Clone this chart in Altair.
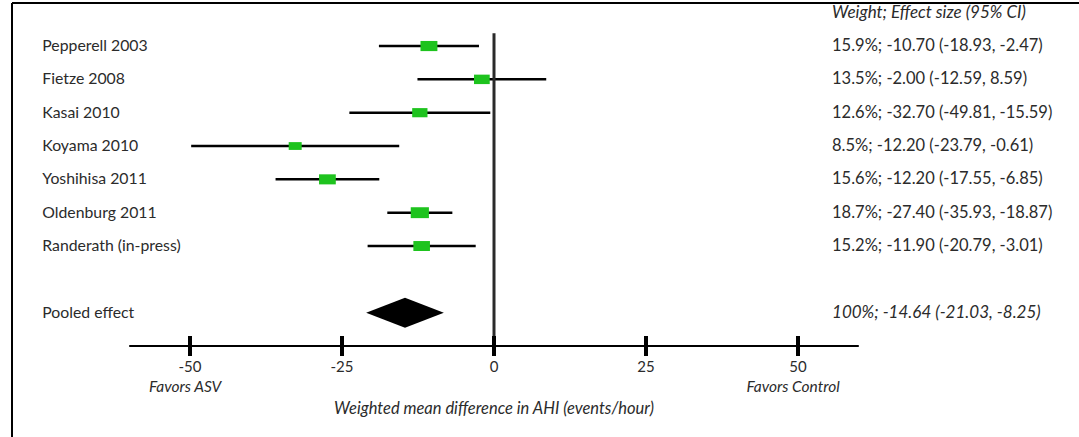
import altair as alt
import pandas as pd

# ---- data ----
studies = ["Pepperell 2003", "Fietze 2008", "Kasai 2010", "Koyama 2010",
           "Yoshihisa 2011", "Oldenburg 2011", "Randerath (in-press)"]
# plotted effect sizes / CIs (as drawn in the figure)
est = [-10.70, -2.00, -12.20, -32.70, -27.40, -12.20, -11.90]
lo = [-18.93, -12.59, -23.79, -49.81, -35.93, -17.55, -20.79]
hi = [-2.47, 8.59, -0.61, -15.59, -18.87, -6.85, -3.01]
weights = [15.9, 13.5, 12.6, 8.5, 15.6, 18.7, 15.2]
row_text = ["15.9%; -10.70 (-18.93, -2.47)",
            "13.5%; -2.00 (-12.59, 8.59)",
            "12.6%; -32.70 (-49.81, -15.59)",
            "8.5%; -12.20 (-23.79, -0.61)",
            "15.6%; -12.20 (-17.55, -6.85)",
            "18.7%; -27.40 (-35.93, -18.87)",
            "15.2%; -11.90 (-20.79, -3.01)"]
pooled_label = "Pooled effect"
pooled_est, pooled_lo, pooled_hi = -14.64, -21.03, -8.25
pooled_text = "100%; -14.64 (-21.03, -8.25)"
header_text = "Weight; Effect size (95% CI)"
tick_values = [-50, -25, 0, 25, 50]
tick_labels = ["-50", "-25", "0", "25", "50"]
axis_min, axis_max = -60, 60
left_note = "Favors ASV"
right_note = "Favors Control"
axis_title = "Weighted mean difference in AHI (events/hour)"

# ---- layout ----
FONT = "Lato"
W, H = 1067, 434
POOLED_ROW = 9
AXIS_ROW = 10
xs = alt.Scale(domain=[-79.28, 96.22], nice=False, zero=False)
ys = alt.Scale(domain=[-0.291, 12.73], nice=False, zero=False, reverse=True)

def X(field=None, datum=None):
    if datum is not None:
        return alt.X(datum=datum, type="quantitative", scale=xs, axis=None)
    return alt.X(field, type="quantitative", scale=xs, axis=None)

def Y(field=None, datum=None):
    if datum is not None:
        return alt.Y(datum=datum, type="quantitative", scale=ys, axis=None)
    return alt.Y(field, type="quantitative", scale=ys, axis=None)

rows = list(range(1, len(studies) + 1))
df = pd.DataFrame({"study": studies, "est": est, "lo": lo, "hi": hi,
                   "w": weights, "txt": row_text, "row": rows})
ticks_df = pd.DataFrame({"t": tick_values, "lab": tick_labels})
one = pd.DataFrame({"a": [0]})
diamond = pd.DataFrame({"x": [pooled_lo, pooled_est, pooled_hi],
                        "y": [POOLED_ROW, POOLED_ROW - 0.45, POOLED_ROW],
                        "y2": [POOLED_ROW, POOLED_ROW + 0.45, POOLED_ROW]})

LABEL_X = -74.3
TEXT_X = 55.6
TXT = "#2b2b2b"

ci = alt.Chart(df).mark_rule(color="black", strokeWidth=2.5).encode(
    x=X("lo"), x2="hi", y=Y("row"))

squares = alt.Chart(df).mark_point(
    shape="M-1,-0.6L1,-0.6L1,0.6L-1,0.6Z", filled=True, opacity=1,
    color="#1ec31e").encode(
    x=X("est"), y=Y("row"),
    size=alt.Size("w:Q", scale=alt.Scale(domain=[8.5, 18.7], range=[169, 330]),
                  legend=None))

zero_line = alt.Chart(one).mark_rule(color="#2a2a2a", strokeWidth=3).encode(
    x=X(datum=0), y=Y(datum=0.62), y2=alt.Y2(datum=AXIS_ROW))

axis_line = alt.Chart(one).mark_rule(color="black", strokeWidth=2).encode(
    x=X(datum=axis_min), x2=alt.X2(datum=axis_max), y=Y(datum=AXIS_ROW))

tick_marks = alt.Chart(ticks_df).mark_rule(color="black", strokeWidth=4).encode(
    x=X("t"), y=Y(datum=AXIS_ROW - 0.3), y2=alt.Y2(datum=AXIS_ROW + 0.3))

tick_text = alt.Chart(ticks_df).mark_text(
    font=FONT, fontSize=15, color=TXT, baseline="middle").encode(
    x=X("t"), y=Y(datum=AXIS_ROW + 0.64), text="lab")

notes_df = pd.DataFrame({"x": [-50.8, 49.2], "lab": [left_note, right_note]})
notes = alt.Chart(notes_df).mark_text(
    font=FONT, fontSize=15.5, fontStyle="italic", color=TXT,
    baseline="middle").encode(
    x=X("x"), y=Y(datum=AXIS_ROW + 1.24), text="lab")

title = alt.Chart(one).mark_text(
    font=FONT, fontSize=16.5, fontStyle="italic", color=TXT,
    baseline="middle", text=axis_title).encode(
    x=X(datum=0), y=Y(datum=AXIS_ROW + 1.9))

labels = alt.Chart(df).mark_text(
    font=FONT, fontSize=15.8, color=TXT, align="left",
    baseline="middle").encode(
    x=X(datum=LABEL_X), y=Y("row"), text="study")

right = alt.Chart(df).mark_text(
    font=FONT, fontSize=16.5, color=TXT, align="left",
    baseline="middle").encode(
    x=X(datum=TEXT_X), y=Y("row"), text="txt")

header = alt.Chart(one).mark_text(
    font=FONT, fontSize=17, fontStyle="italic", color=TXT, align="left",
    baseline="middle", text=header_text).encode(
    x=X(datum=TEXT_X), y=Y(datum=0))

pooled_lab = alt.Chart(one).mark_text(
    font=FONT, fontSize=15.8, color=TXT, align="left",
    baseline="middle", text=pooled_label).encode(
    x=X(datum=LABEL_X), y=Y(datum=POOLED_ROW))

pooled_txt = alt.Chart(one).mark_text(
    font=FONT, fontSize=17, fontStyle="italic", color=TXT, align="left",
    baseline="middle", text=pooled_text).encode(
    x=X(datum=TEXT_X), y=Y(datum=POOLED_ROW))

dia = alt.Chart(diamond).mark_area(color="black", opacity=1).encode(
    x=X("x"), y=Y("y"), y2="y2")

frame_top = alt.Chart(one).mark_rule(color="black", strokeWidth=2).encode(
    x=alt.value(0), x2=alt.value(W), y=alt.value(0))
frame_left = alt.Chart(one).mark_rule(color="black", strokeWidth=2).encode(
    x=alt.value(0), y=alt.value(0), y2=alt.value(H))

chart = alt.layer(
    ci, squares, zero_line, axis_line, tick_marks, tick_text, notes, title,
    labels, right, header, pooled_lab, pooled_txt, dia, frame_top, frame_left
).properties(
    width=W, height=H,
    padding={"left": 12, "top": 3, "right": 0, "bottom": 0},
    autosize=alt.AutoSizeParams(type="none"),
    background="white",
).configure_view(stroke=None)

chart.save("out.html", embed_options={"renderer": "svg", "actions": False})
